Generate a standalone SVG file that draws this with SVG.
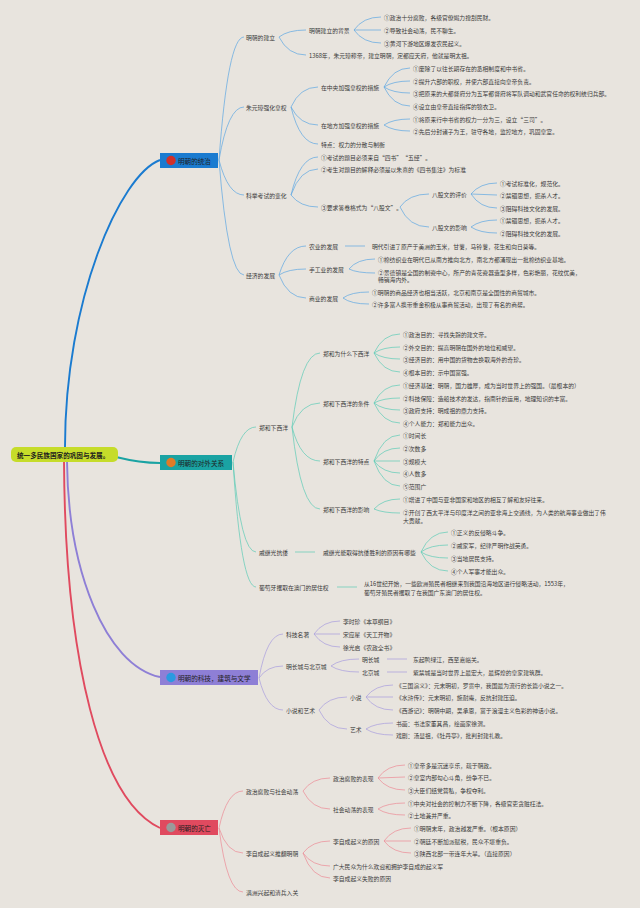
<svg xmlns="http://www.w3.org/2000/svg" width="640" height="908" viewBox="0 0 640 908">
<style>
text{font-family:"Noto Sans CJK SC","Noto Sans",sans-serif;dominant-baseline:central;fill:#3a3a3a;font-size:5.8px}
.m{font-size:6.6px;fill:#1e1e1e}
.r{font-size:6.6px;font-weight:bold;fill:#1e1e1e}
.l1,.l2,.l3,.l4{fill:none;stroke-width:0.7}
.l1{stroke:#5ca6e2}.l2{stroke:#5ccbb6}.l3{stroke:#a89cde}.l4{stroke:#ec8995}
.M{fill:none;stroke-width:1.9}
</style>
<rect width="640" height="908" fill="#e8e4de"/>
<g id="connectors">
<path class="M" stroke="#1a7bd0" d="M65,447 C65,300 120,175 160,160"/>
<path class="M" stroke="#1aa3a3" d="M116,457 Q140,463 160,463"/>
<path class="M" stroke="#8e7fd6" d="M67,461 C68,570 105,665 160,677"/>
<path class="M" stroke="#e04a5f" d="M64,461 C65,660 100,800 160,828"/>
<!-- section 1 -->
<path class="l1" d="M219,160 Q228,37 244,37"/>
<path class="l1" d="M219,160 Q228,107 244,107"/>
<path class="l1" d="M219,160 Q228,195 244,195"/>
<path class="l1" d="M219,160 Q228,275 244,275"/>
<path class="l1" d="M279,37 Q288,30 306,30"/>
<path class="l1" d="M279,37 Q288,55 306,55"/>
<path class="l1" d="M354,30 Q363,17 381,17"/>
<path class="l1" d="M354,30 L381,30"/>
<path class="l1" d="M354,30 Q363,43 381,43"/>
<path class="l1" d="M291,107 Q300,87 318,87"/>
<path class="l1" d="M291,107 Q300,125 318,125"/>
<path class="l1" d="M291,107 Q300,144 318,144"/>
<path class="l1" d="M384,87 Q393,68 410,68"/>
<path class="l1" d="M384,87 Q393,81 410,81"/>
<path class="l1" d="M384,87 Q393,93 410,93"/>
<path class="l1" d="M384,87 Q393,106 410,106"/>
<path class="l1" d="M384,125 Q393,119 410,119"/>
<path class="l1" d="M384,125 Q393,131 410,131"/>
<path class="l1" d="M291,195 Q300,157 318,157"/>
<path class="l1" d="M291,195 Q300,169 318,169"/>
<path class="l1" d="M291,195 Q300,207 318,207"/>
<path class="l1" d="M400,207 Q409,194 429,194"/>
<path class="l1" d="M400,207 Q409,227 429,227"/>
<path class="l1" d="M471,194 Q480,183 497,183"/>
<path class="l1" d="M471,194 L497,195"/>
<path class="l1" d="M471,194 Q480,208 497,208"/>
<path class="l1" d="M471,227 Q480,220 497,220"/>
<path class="l1" d="M471,227 Q480,233 497,233"/>
<path class="l1" d="M279,275 Q288,246 306,246"/>
<path class="l1" d="M279,275 Q288,269 306,269"/>
<path class="l1" d="M279,275 Q288,298 306,298"/>
<path class="l1" d="M345,246 L365,246"/>
<path class="l1" d="M349,269 Q357,259 375,259"/>
<path class="l1" d="M349,269 Q357,273 375,273"/>
<path class="l1" d="M343,298 Q351,292 369,292"/>
<path class="l1" d="M343,298 Q351,304 369,304"/>
<!-- section 2 -->
<path class="l2" d="M233,462 Q241,427 256,427"/>
<path class="l2" d="M233,462 Q241,552 256,552"/>
<path class="l2" d="M233,462 Q241,587 256,587"/>
<path class="l2" d="M292,427 Q301,353 320,353"/>
<path class="l2" d="M292,427 Q301,403 320,403"/>
<path class="l2" d="M292,427 Q301,461 320,461"/>
<path class="l2" d="M292,427 Q301,509 320,509"/>
<path class="l2" d="M374,353 Q383,334 400,334"/>
<path class="l2" d="M374,353 Q383,347 400,347"/>
<path class="l2" d="M374,353 Q383,359 400,359"/>
<path class="l2" d="M374,353 Q383,372 400,372"/>
<path class="l2" d="M374,403 Q383,385 400,385"/>
<path class="l2" d="M374,403 Q383,398 400,398"/>
<path class="l2" d="M374,403 Q383,410 400,410"/>
<path class="l2" d="M374,403 Q383,423 400,423"/>
<path class="l2" d="M374,461 Q383,435 400,435"/>
<path class="l2" d="M374,461 Q383,448 400,448"/>
<path class="l2" d="M374,461 L400,461"/>
<path class="l2" d="M374,461 Q383,473 400,473"/>
<path class="l2" d="M374,461 Q383,486 400,486"/>
<path class="l2" d="M374,509 Q383,499 400,499"/>
<path class="l2" d="M374,509 Q383,513 400,513"/>
<path class="l2" d="M295,552 L315,552"/>
<path class="l2" d="M421,552 Q430,532 448,532"/>
<path class="l2" d="M421,552 Q430,545 448,545"/>
<path class="l2" d="M421,552 Q430,558 448,558"/>
<path class="l2" d="M421,552 Q430,571 448,571"/>
<path class="l2" d="M337,587 L357,587"/>
<!-- section 3 -->
<path class="l3" d="M259,678 Q267,634 283,634"/>
<path class="l3" d="M259,678 Q267,666 283,666"/>
<path class="l3" d="M259,678 Q267,710 283,710"/>
<path class="l3" d="M314,634 Q323,621 340,621"/>
<path class="l3" d="M314,634 L340,634"/>
<path class="l3" d="M314,634 Q323,647 340,647"/>
<path class="l3" d="M331,666 Q340,659 359,659"/>
<path class="l3" d="M331,666 Q340,672 359,672"/>
<path class="l3" d="M387,659 L407,659"/>
<path class="l3" d="M387,672 L407,672"/>
<path class="l3" d="M319,710 Q328,697 347,697"/>
<path class="l3" d="M319,710 Q328,729 347,729"/>
<path class="l3" d="M366,697 Q375,685 393,685"/>
<path class="l3" d="M366,697 L393,697"/>
<path class="l3" d="M366,697 Q375,710 393,710"/>
<path class="l3" d="M366,729 Q375,723 393,723"/>
<path class="l3" d="M366,729 Q375,735 393,735"/>
<!-- section 4 -->
<path class="l4" d="M219,828 Q227,791 243,791"/>
<path class="l4" d="M219,828 Q227,853 243,853"/>
<path class="l4" d="M219,828 Q227,892 243,892"/>
<path class="l4" d="M303,791 Q312,778 330,778"/>
<path class="l4" d="M303,791 Q312,809 330,809"/>
<path class="l4" d="M378,778 Q387,765 405,765"/>
<path class="l4" d="M378,778 L405,777"/>
<path class="l4" d="M378,778 Q387,790 405,790"/>
<path class="l4" d="M378,809 Q387,803 405,803"/>
<path class="l4" d="M378,809 Q387,815 405,815"/>
<path class="l4" d="M303,853 Q312,841 330,841"/>
<path class="l4" d="M303,853 Q312,866 330,866"/>
<path class="l4" d="M303,853 Q312,878 330,878"/>
<path class="l4" d="M384,841 Q393,828 411,828"/>
<path class="l4" d="M384,841 L411,841"/>
<path class="l4" d="M384,841 Q393,853 411,853"/>
</g>
<g id="root"><rect x="11" y="447" width="107" height="15" rx="5" fill="#c6dc2a"/><text class="r" x="17" y="454.5">统一多民族国家的巩固与发展。</text></g>
<g id="main1"><rect x="160" y="153" width="58" height="15" fill="#1a7bd0"/><circle cx="171" cy="160.5" r="4.7" fill="#d0302a"/><text class="m" x="178" y="160.5">明朝的统治</text></g>
<g id="main2"><rect x="160" y="455" width="72" height="15" fill="#1aa3a3"/><circle cx="171" cy="462.5" r="4.7" fill="#e07b28"/><text class="m" x="178" y="462.5">明朝的对外关系</text></g>
<g id="main3"><rect x="160" y="670" width="98" height="15" fill="#8e7fd6"/><circle cx="171" cy="677.5" r="4.7" fill="#2a9ae0"/><text class="m" x="178" y="677.5">明朝的科技，建筑与文学</text></g>
<g id="main4"><rect x="160" y="820" width="58" height="15" fill="#e04a5f"/><circle cx="171" cy="827.5" r="4.7" fill="#9a9a9a"/><text class="m" x="178" y="827.5">明朝的灭亡</text></g>
<!-- section 1 nodes -->
<g id="s1a"><text x="246" y="37">明朝的建立</text></g>
<g id="s1a1"><text x="309" y="30">明朝建立的背景</text></g>
<g id="s1a1a"><text x="384" y="17">①政治十分腐败，各级官僚竭力搜刮民财。</text></g>
<g id="s1a1b"><text x="384" y="30">②导致社会动荡，民不聊生。</text></g>
<g id="s1a1c"><text x="384" y="43">③黄河下游地区爆发农民起义。</text></g>
<g id="s1a2"><text x="309" y="55">1368年，朱元璋称帝，建立明朝，定都应天府，他就是明太祖。</text></g>
<g id="s1b"><text x="246" y="107">朱元璋强化皇权</text></g>
<g id="s1b1"><text x="321" y="87">在中央加强皇权的措施</text></g>
<g id="s1b1a"><text x="413" y="68">①废除了以往长期存在的丞相制度和中书省。</text></g>
<g id="s1b1b"><text x="413" y="81">②提升六部的职权，并使六部直接向皇帝负责。</text></g>
<g id="s1b1c"><text x="413" y="93">③把原来的大都督府分为五军都督府将军队调动和武官任命的权利统归兵部。</text></g>
<g id="s1b1d"><text x="413" y="106">④设立由皇帝直接指挥的锦衣卫。</text></g>
<g id="s1b2"><text x="321" y="125">在地方加强皇权的措施</text></g>
<g id="s1b2a"><text x="413" y="119">①将原来行中书省的权力一分为三，设立“三司”。</text></g>
<g id="s1b2b"><text x="413" y="131">②先后分封诸子为王，驻守各地，监控地方，巩固皇室。</text></g>
<g id="s1b3"><text x="321" y="144">特点：权力的分散与制衡</text></g>
<g id="s1c"><text x="246" y="195">科举考试的变化</text></g>
<g id="s1c1"><text x="321" y="157">①考试的题目必须来自“四书”“五经”。</text></g>
<g id="s1c2"><text x="321" y="169">②考生对题目的解释必须是以朱熹的《四书集注》为标准</text></g>
<g id="s1c3"><text x="321" y="207">③要求答卷格式为“八股文”。</text></g>
<g id="s1c3a"><text x="432" y="194">八股文的评价</text></g>
<g id="s1c3a1"><text x="500" y="183">①考试标准化，规范化。</text></g>
<g id="s1c3a2"><text x="500" y="195">②禁锢思想，扼杀人才。</text></g>
<g id="s1c3a3"><text x="500" y="208">③阻碍科技文化的发展。</text></g>
<g id="s1c3b"><text x="432" y="227">八股文的影响</text></g>
<g id="s1c3b1"><text x="500" y="220">①禁锢思想，扼杀人才。</text></g>
<g id="s1c3b2"><text x="500" y="233">②阻碍科技文化的发展。</text></g>
<g id="s1d"><text x="246" y="275">经济的发展</text></g>
<g id="s1d1"><text x="309" y="246">农业的发展</text></g>
<g id="s1d1a"><text x="372" y="246">明代引进了原产于美洲的玉米，甘薯，马铃薯，花生和向日葵等。</text></g>
<g id="s1d2"><text x="309" y="269">手工业的发展</text></g>
<g id="s1d2a"><text x="378" y="259">①棉纺织业在明代已从南方推向北方，南北方都涌现出一批棉纺织业基地。</text></g>
<g id="s1d2b"><text x="378" y="272">②景德镇是全国的制瓷中心，所产的青花瓷器造型多样，色彩艳丽，花纹优美，</text><text x="378" y="279.6">畅销海内外。</text></g>
<g id="s1d3"><text x="309" y="298">商业的发展</text></g>
<g id="s1d3a"><text x="372" y="292">①明朝的商品经济也相当活跃，北京和南京是全国性的商贸城市。</text></g>
<g id="s1d3b"><text x="372" y="304">②许多富人携带重金积极从事商贸活动，出现了有名的商帮。</text></g>
<!-- section 2 nodes -->
<g id="s2a"><text x="259" y="427">郑和下西洋</text></g>
<g id="s2a1"><text x="323" y="353">郑和为什么下西洋</text></g>
<g id="s2a1a"><text x="403" y="334">①政治目的：寻找失踪的建文帝。</text></g>
<g id="s2a1b"><text x="403" y="347">②外交目的：提高明朝在国外的地位和威望。</text></g>
<g id="s2a1c"><text x="403" y="359">③经济目的：用中国的货物去换取海外的奇珍。</text></g>
<g id="s2a1d"><text x="403" y="372">④根本目的：示中国富强。</text></g>
<g id="s2a2"><text x="323" y="403">郑和下西洋的条件</text></g>
<g id="s2a2a"><text x="403" y="385">①经济基础：明朝，国力雄厚，成为当时世界上的强国。（最根本的）</text></g>
<g id="s2a2b"><text x="403" y="398">②科技保障：造船技术的发达，指南针的运用，地理知识的丰富。</text></g>
<g id="s2a2c"><text x="403" y="410">③政府支持：明成祖的鼎力支持。</text></g>
<g id="s2a2d"><text x="403" y="423">④个人能力：郑和能力出众。</text></g>
<g id="s2a3"><text x="323" y="461">郑和下西洋的特点</text></g>
<g id="s2a3a"><text x="403" y="435">①时间长</text></g>
<g id="s2a3b"><text x="403" y="448">②次数多</text></g>
<g id="s2a3c"><text x="403" y="461">③规模大</text></g>
<g id="s2a3d"><text x="403" y="473">④人数多</text></g>
<g id="s2a3e"><text x="403" y="486">⑤范围广</text></g>
<g id="s2a4"><text x="323" y="509">郑和下西洋的影响</text></g>
<g id="s2a4a"><text x="403" y="499">①增进了中国与亚非国家和地区的相互了解和友好往来。</text></g>
<g id="s2a4b"><text x="403" y="512">②开创了西太平洋与印度洋之间的亚非海上交通线，为人类的航海事业做出了伟</text><text x="403" y="520">大贡献。</text></g>
<g id="s2b"><text x="259" y="552">戚继光抗倭</text></g>
<g id="s2b1"><text x="323" y="552">戚继光能取得抗倭胜利的原因有哪些</text></g>
<g id="s2b1a"><text x="451" y="532">①正义的反侵略斗争。</text></g>
<g id="s2b1b"><text x="451" y="545">②戚家军，纪律严明作战英勇。</text></g>
<g id="s2b1c"><text x="451" y="558">③当地居民支持。</text></g>
<g id="s2b1d"><text x="451" y="571">④个人军事才能出众。</text></g>
<g id="s2c"><text x="259" y="587">葡萄牙攫取在澳门的居住权</text></g>
<g id="s2c1"><text x="364" y="583">从16世纪开始，一些欧洲殖民者相继来到我国沿海地区进行侵略活动，1553年，</text><text x="364" y="592">葡萄牙殖民者攫取了在我国广东澳门的居住权。</text></g>
<!-- section 3 nodes -->
<g id="s3a"><text x="286" y="634">科技名著</text></g>
<g id="s3a1"><text x="343" y="621">李时珍《本草纲目》</text></g>
<g id="s3a2"><text x="343" y="634">宋应星《天工开物》</text></g>
<g id="s3a3"><text x="343" y="647">徐光启《农政全书》</text></g>
<g id="s3b"><text x="286" y="666">明长城与北京城</text></g>
<g id="s3b1"><text x="362" y="659">明长城</text></g>
<g id="s3b1a"><text x="413" y="659">东起鸭绿江，西至嘉峪关。</text></g>
<g id="s3b2"><text x="362" y="672">北京城</text></g>
<g id="s3b2a"><text x="413" y="672">紫禁城是当时世界上最宏大，最辉煌的皇家建筑群。</text></g>
<g id="s3c"><text x="286" y="710">小说和艺术</text></g>
<g id="s3c1"><text x="350" y="697">小说</text></g>
<g id="s3c1a"><text x="396" y="685">《三国演义》：元末明初，罗贯中，我国最为流行的长篇小说之一。</text></g>
<g id="s3c1b"><text x="396" y="697">《水浒传》：元末明初，施耐庵，反抗封建压迫。</text></g>
<g id="s3c1c"><text x="396" y="710">《西游记》：明朝中期，吴承恩，富于浪漫主义色彩的神话小说。</text></g>
<g id="s3c2"><text x="350" y="729">艺术</text></g>
<g id="s3c2a"><text x="396" y="723">书画：书法家董其昌，绘画家徐渭。</text></g>
<g id="s3c2b"><text x="396" y="735">戏剧：汤显祖，《牡丹亭》，批判封建礼教。</text></g>
<!-- section 4 nodes -->
<g id="s4a"><text x="246" y="791">政治腐败与社会动荡</text></g>
<g id="s4a1"><text x="333" y="778">政治腐败的表现</text></g>
<g id="s4a1a"><text x="408" y="765">①皇帝多是沉迷享乐，疏于朝政。</text></g>
<g id="s4a1b"><text x="408" y="777">②皇室内部勾心斗角，纷争不已。</text></g>
<g id="s4a1c"><text x="408" y="790">③大臣们结党营私，争权夺利。</text></g>
<g id="s4a2"><text x="333" y="809">社会动荡的表现</text></g>
<g id="s4a2a"><text x="408" y="803">①中央对社会的控制力不断下降，各级官吏贪赃枉法。</text></g>
<g id="s4a2b"><text x="408" y="815">②土地兼并严重。</text></g>
<g id="s4b"><text x="246" y="853">李自成起义推翻明朝</text></g>
<g id="s4b1"><text x="333" y="841">李自成起义的原因</text></g>
<g id="s4b1a"><text x="414" y="828">①明朝末年，政治越发严重。（根本原因）</text></g>
<g id="s4b1b"><text x="414" y="841">②朝廷不断加派赋税，民众不堪重负。</text></g>
<g id="s4b1c"><text x="414" y="853">③陕西北部一带连年大旱。（直接原因）</text></g>
<g id="s4b2"><text x="333" y="866">广大民众为什么欢迎和拥护李自成的起义军</text></g>
<g id="s4b3"><text x="333" y="878">李自成起义失败的原因</text></g>
<g id="s4c"><text x="246" y="892">满洲兴起和清兵入关</text></g>
</svg>
